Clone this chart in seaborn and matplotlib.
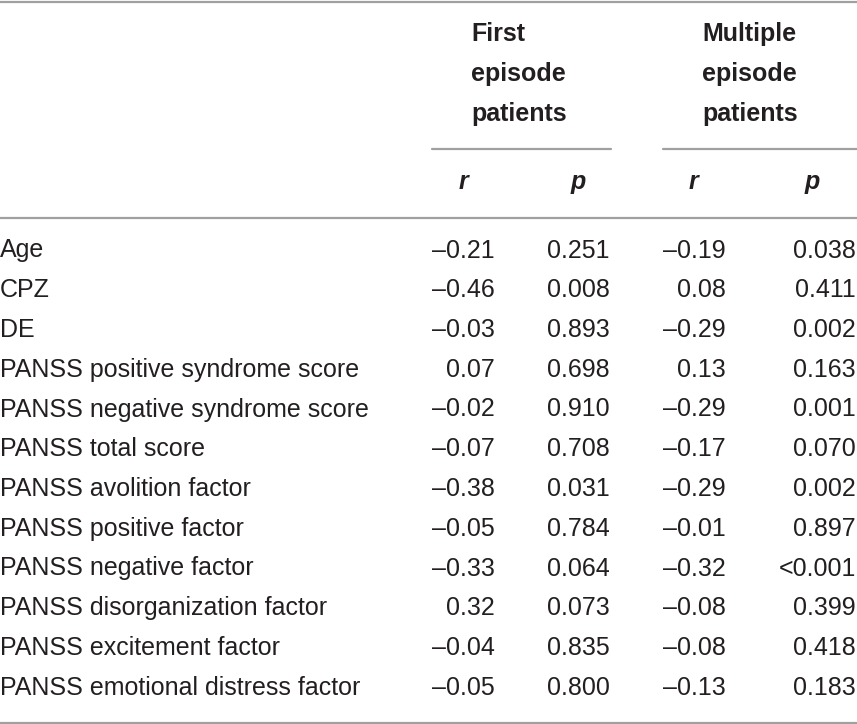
import matplotlib
matplotlib.use("Agg")
import matplotlib.pyplot as plt
from matplotlib import font_manager
import seaborn as sns

# ---- data ----
variables = [
    "Age", "CPZ", "DE",
    "PANSS positive syndrome score",
    "PANSS negative syndrome score",
    "PANSS total score",
    "PANSS avolition factor",
    "PANSS positive factor",
    "PANSS negative factor",
    "PANSS disorganization factor",
    "PANSS excitement factor",
    "PANSS emotional distress factor",
]
first_r = [-0.21, -0.46, -0.03, 0.07, -0.02, -0.07, -0.38, -0.05, -0.33, 0.32, -0.04, -0.05]
first_p = ["0.251", "0.008", "0.893", "0.698", "0.910", "0.708", "0.031", "0.784", "0.064", "0.073", "0.835", "0.800"]
multi_r = [-0.19, 0.08, -0.29, 0.13, -0.29, -0.17, -0.29, -0.01, -0.32, -0.08, -0.08, -0.13]
multi_p = ["0.038", "0.411", "0.002", "0.163", "0.001", "0.070", "0.002", "0.897", "<0.001", "0.399", "0.418", "0.183"]
group_titles = ["First\nepisode\npatients", "Multiple\nepisode\npatients"]
sub_headers = ["r", "p", "r", "p"]

# ---- style ----
sns.set_theme(style="white")
avail = {f.name for f in font_manager.fontManager.ttflist}
fam = [f for f in ["Liberation Sans", "DejaVu Sans"] if f in avail]
plt.rcParams["font.family"] = fam

TXT = "#231f20"
RULE = "#a0a0a0"
FS = 18

W, H = 857, 724
fig = plt.figure(figsize=(W / 100, H / 100), dpi=100)
ax = fig.add_axes([0, 0, 1, 1])
ax.set_xlim(0, W)
ax.set_ylim(H, 0)
ax.axis("off")

def fmt_r(v):
    s = f"{v:.2f}"
    return s.replace("-", "\u2013")

# rules
ax.plot([0, W], [1.5, 1.5], color=RULE, lw=1.6)
ax.plot([432, 611], [149, 149], color=RULE, lw=1.6)
ax.plot([663, W], [149, 149], color=RULE, lw=1.6)
ax.plot([0, W], [217.5, 217.5], color=RULE, lw=1.6)
ax.plot([0, W], [722.5, 722.5], color=RULE, lw=1.6)

# group headers
for title, x in zip(group_titles, [471, 702]):
    for k, line in enumerate(title.split("\n")):
        ax.text(x, 41 + 40 * k, line, ha="left", va="baseline", fontsize=FS,
                fontweight="bold", color=TXT)

# sub headers
for h, x in zip(sub_headers, [463, 578, 693, 812]):
    ax.text(x, 189, h, ha="center", va="baseline", fontsize=FS, fontweight="bold",
            fontstyle="italic", color=TXT)

# body
col_right = [495, 610, 726, 856]
y0, dy = 257.5, 39.75
for i, name in enumerate(variables):
    y = y0 + dy * i
    ax.text(0, y, name, ha="left", va="baseline", fontsize=FS, color=TXT)
    vals = [fmt_r(first_r[i]), first_p[i], fmt_r(multi_r[i]), multi_p[i]]
    for v, xr in zip(vals, col_right):
        ax.text(xr, y, v, ha="right", va="baseline", fontsize=FS, color=TXT)

fig.savefig("out.png", dpi=100, facecolor="white")
